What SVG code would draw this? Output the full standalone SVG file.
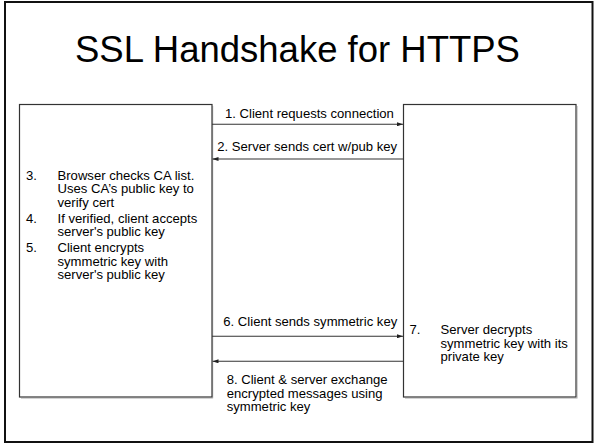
<svg xmlns="http://www.w3.org/2000/svg" width="595" height="444" viewBox="0 0 595 444">
  <style>
    .title { font-family: "Liberation Sans", Arial, sans-serif; font-size: 36.5px; fill: #000; }
    .txt { font-family: "Liberation Sans", Arial, sans-serif; font-size: 13.1px; fill: #000; }
    .box { fill: #fff; stroke: #333; stroke-width: 1.2; }
    .shadow { fill: none; stroke: #c8c8c8; stroke-width: 1; }
    .conn { stroke: #333; stroke-width: 1.1; fill: none; }
  </style>
  <defs>
    <marker id="head" viewBox="0 0 6 4" refX="6" refY="2" markerWidth="6" markerHeight="4" markerUnits="userSpaceOnUse" orient="auto">
      <path d="M0,0 L6,2 L0,4 Z" fill="#222"/>
    </marker>
  </defs>

  <!-- slide background and frame -->
  <rect x="0" y="0" width="595" height="444" fill="#fff"/>
  <rect x="5" y="2" width="587.5" height="440" fill="none" stroke="#111" stroke-width="2"/>

  <text class="title" x="297.5" y="62" text-anchor="middle">SSL Handshake for HTTPS</text>

  <!-- client -->
  <g id="client">
    <path class="shadow" d="M212.8,106 V398.3 H21"/>
    <rect class="box" x="19.5" y="104.5" width="192.5" height="292.5"/>
    <text class="txt" x="26" y="179.5">3.</text>
    <text class="txt" x="57.5" y="179.5">Browser checks CA list.</text>
    <text class="txt" x="57.5" y="193">Uses CA’s public key to</text>
    <text class="txt" x="57.5" y="206.5">verify cert</text>
    <text class="txt" x="26" y="222.5">4.</text>
    <text class="txt" x="57.5" y="222.5">If verified, client accepts</text>
    <text class="txt" x="57.5" y="236">server's public key</text>
    <text class="txt" x="26" y="252">5.</text>
    <text class="txt" x="57.5" y="252">Client encrypts</text>
    <text class="txt" x="57.5" y="265.5">symmetric key with</text>
    <text class="txt" x="57.5" y="279">server's public key</text>
  </g>

  <!-- server -->
  <g id="server">
    <path class="shadow" d="M577.3,106 V398.3 H405"/>
    <rect class="box" x="403.5" y="104.5" width="172.5" height="292.5"/>
    <text class="txt" x="409.5" y="334">7.</text>
    <text class="txt" x="440.5" y="334">Server decrypts</text>
    <text class="txt" x="440.5" y="347.5">symmetric key with its</text>
    <text class="txt" x="440.5" y="361">private key</text>
  </g>

  <!-- messages between client and server -->
  <g id="connectors">
    <line class="conn" x1="212" y1="124.3" x2="403" y2="124.3" marker-end="url(#head)"/>
    <line class="conn" x1="403" y1="159" x2="212.5" y2="159" marker-end="url(#head)"/>
    <line class="conn" x1="212" y1="336.3" x2="403" y2="336.3" marker-end="url(#head)"/>
    <line class="conn" x1="403" y1="361.3" x2="212.5" y2="361.3" marker-end="url(#head)"/>
    <text class="txt" x="225" y="117.5">1. Client requests connection</text>
    <text class="txt" x="217.3" y="151.3">2. Server sends cert w/pub key</text>
    <text class="txt" x="223.3" y="326">6. Client sends symmetric key</text>
    <text class="txt" x="226.7" y="384">8. Client &amp; server exchange</text>
    <text class="txt" x="226.7" y="397.5">encrypted messages using</text>
    <text class="txt" x="226.7" y="411">symmetric key</text>
  </g>
</svg>
